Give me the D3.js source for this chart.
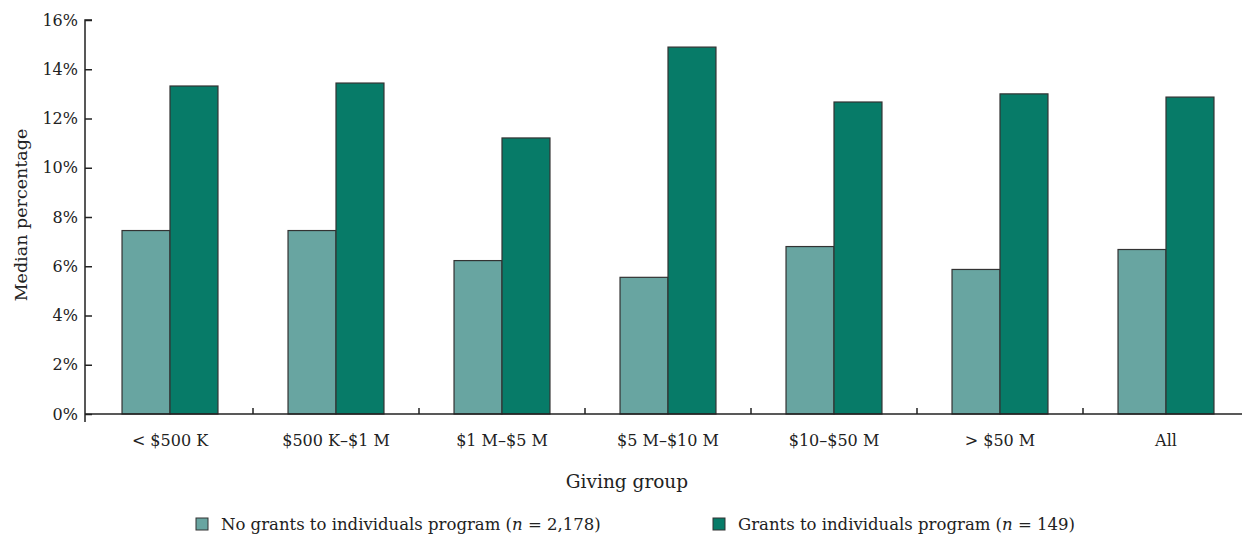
<!DOCTYPE html>
<html>
<head>
<meta charset="utf-8">
<script src="https://cdn.jsdelivr.net/npm/d3@7"></script>
<style>
  body { margin: 0; background: #fff; }
  svg text { font-family: "DejaVu Serif", "Liberation Serif", serif; fill: #222; }
</style>
</head>
<body>
<svg id="chart" width="1242" height="537"></svg>
<script>
const groups = ["< $500 K", "$500 K\u2013$1 M", "$1 M\u2013$5 M", "$5 M\u2013$10 M", "$10\u2013$50 M", "> $50 M", "All"];
const noGrants = [7.45, 7.45, 6.23, 5.55, 6.8, 5.87, 6.68];
const withGrants = [13.32, 13.44, 11.21, 14.9, 12.67, 13.0, 12.87];
const seriesNames = ["No grants to individuals program", "Grants to individuals program"];
const seriesN = ["2,178", "149"];
const yTicks = [0, 2, 4, 6, 8, 10, 12, 14, 16];

const COLORS = ["#68a5a1", "#077b68"];

const svg = d3.select("#chart");
const M = { left: 85, right: 1249, top: 20, bottom: 414 };

// bands start a hair right of the y axis line
const x = d3.scaleBand().domain(groups).range([M.left + 2, M.right]).paddingInner(0).paddingOuter(0);
const xs = d3.scaleBand().domain([0, 1]).range([0, x.bandwidth()]).paddingInner(0).paddingOuter(0.73);
const y = d3.scaleLinear().domain([0, 16]).range([M.bottom, M.top]);

const series = [noGrants, withGrants];

// bars
groups.forEach((g, i) => {
  series.forEach((s, k) => {
    svg.append("rect")
      .attr("x", x(g) + xs(k))
      .attr("y", y(s[i]))
      .attr("width", xs.bandwidth())
      .attr("height", y(0) - y(s[i]))
      .attr("fill", COLORS[k])
      .attr("stroke", "#333")
      .attr("stroke-width", 1.2);
  });
});

// y axis
const yAxis = d3.axisRight(y).tickValues(yTicks).tickSize(7).tickFormat(d => d + "%");
const yg = svg.append("g").attr("transform", `translate(${M.left},0)`).call(yAxis);
yg.select(".domain").attr("d", `M7,${M.top}H0V${M.bottom + 8}`).attr("stroke", "#222").attr("stroke-width", 1.5);
yg.selectAll(".tick line").attr("stroke", "#222").attr("stroke-width", 1.5);
yg.selectAll(".tick text").attr("x", -7).attr("text-anchor", "end").style("font-size", "16px");

// x axis
const xg = svg.append("g").attr("transform", `translate(0,${M.bottom})`);
xg.append("line").attr("x1", M.left).attr("x2", 1242).attr("y1", 0).attr("y2", 0)
  .attr("stroke", "#222").attr("stroke-width", 1.5);
xg.selectAll(".sep").data(groups.slice(1)).join("line")
  .attr("x1", d => x(d)).attr("x2", d => x(d)).attr("y1", 0).attr("y2", -6)
  .attr("stroke", "#222").attr("stroke-width", 1.5);
xg.selectAll(".lab").data(groups).join("text")
  .attr("x", d => x(d) + x.bandwidth() / 2)
  .attr("y", 32)
  .attr("text-anchor", "middle")
  .style("font-size", "16px")
  .text(d => d);

// axis titles
svg.append("text").attr("x", 627).attr("y", 488).attr("text-anchor", "middle")
  .style("font-size", "18.5px").text("Giving group");
svg.append("text").attr("transform", "translate(27,215) rotate(-90)").attr("text-anchor", "middle")
  .style("font-size", "17.5px").text("Median percentage");

// legend
const legX = [196, 713];
seriesNames.forEach((name, k) => {
  const g = svg.append("g").attr("transform", `translate(${legX[k]},518)`);
  g.append("rect").attr("width", 12).attr("height", 12)
    .attr("fill", COLORS[k]).attr("stroke", "#333").attr("stroke-width", 1);
  const t = g.append("text").attr("x", 25).attr("y", 12).style("font-size", "16.5px");
  t.append("tspan").text(name + " (");
  t.append("tspan").style("font-style", "italic").text("n");
  t.append("tspan").text(" = " + seriesN[k] + ")");
});
</script>
</body>
</html>
